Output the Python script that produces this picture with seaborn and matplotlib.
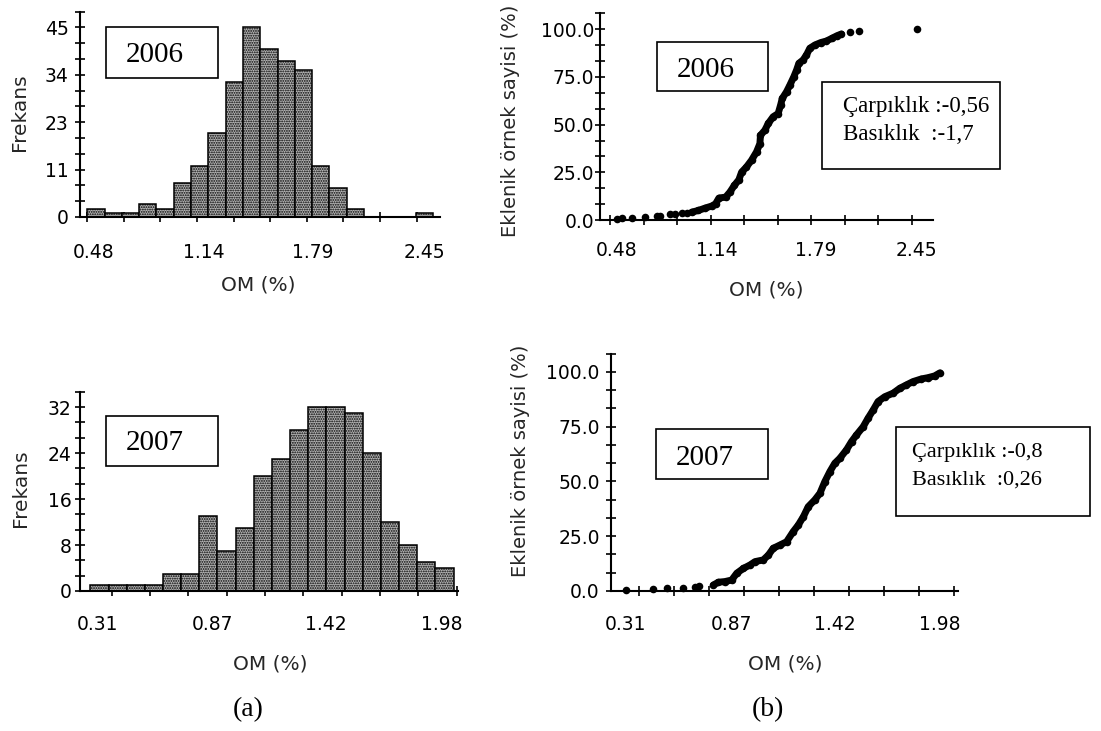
import numpy as np
import pandas as pd
import matplotlib
matplotlib.use("Agg")
import matplotlib.pyplot as plt
from matplotlib.patches import Rectangle
import seaborn as sns

# ---------------------------------------------------------------------------
# Organic matter (OM, %) frequency tables: 20 equal-width classes per year
# ---------------------------------------------------------------------------
om2006_range = (0.444, 2.505)
om2006_counts = [2, 1, 1, 3, 2, 8, 12, 20, 32, 45, 40, 37, 35, 12, 7, 2, 0, 0, 0, 1]

om2007_range = (0.278, 2.036)
om2007_counts = [1, 1, 1, 1, 3, 3, 13, 7, 11, 20, 23, 28, 32, 32, 31, 24, 12, 8, 5, 4]

# ---------------------------------------------------------------------------
# Cumulative sample percentage versus OM (%)
# ---------------------------------------------------------------------------
cum2006_om = [0.48, 0.513, 0.583, 0.666, 0.742, 0.764, 0.830, 0.863, 0.911, 0.939,
              0.972, 1.016, 1.059, 1.103, 1.129, 1.151, 1.195, 1.223, 1.252, 1.282,
              1.300, 1.332, 1.365, 1.398, 1.420, 1.424, 1.453, 1.475, 1.507, 1.540,
              1.556, 1.567, 1.595, 1.617, 1.643, 1.661, 1.676, 1.704, 1.726, 1.748,
              1.781, 1.820, 1.857, 1.895, 1.927, 1.956, 2.013, 2.068, 2.45]
cum2006_pct = [0.4, 0.8, 1.2, 1.5, 2.0, 2.3, 2.9, 3.1, 3.5, 3.9,
               4.1, 5.0, 6.2, 7.3, 8.5, 11.5, 12.0, 14.6, 18.1, 21.1,
               25.1, 27.8, 31.3, 35.7, 40.0, 44.4, 47.1, 50.6, 54.1, 55.8,
               60.2, 63.7, 67.2, 70.7, 75.1, 78.6, 82.1, 83.9, 86.5, 90.0,
               91.7, 93.0, 93.8, 95.3, 96.6, 97.5, 98.6, 98.8, 100.0]
cum2006_dense = (10, 46)   # slice of the continuous part of the curve

cum2007_om = [0.31, 0.453, 0.528, 0.616, 0.678, 0.701, 0.775, 0.802, 0.837, 0.873,
              0.900, 0.935, 0.971, 0.997, 1.041, 1.068, 1.094, 1.130, 1.165, 1.200,
              1.227, 1.254, 1.280, 1.315, 1.342, 1.368, 1.395, 1.421, 1.448, 1.483,
              1.510, 1.536, 1.572, 1.598, 1.625, 1.651, 1.687, 1.731, 1.766, 1.802,
              1.837, 1.881, 1.917, 1.952, 1.98]
cum2007_pct = [0.4, 0.8, 1.2, 1.5, 2.0, 2.3, 2.7, 4.0, 4.3, 5.0,
               8.1, 10.3, 11.9, 13.4, 14.2, 16.4, 19.5, 21.0, 22.5, 27.1,
               30.1, 33.9, 38.5, 41.6, 44.6, 49.9, 54.5, 58.3, 60.6, 64.4,
               68.2, 71.2, 75.0, 78.9, 82.6, 86.5, 88.7, 90.3, 92.5, 94.1,
               95.6, 96.8, 97.4, 98.2, 99.6]
cum2007_dense = (6, 45)

# Axis tick labels
x2006_labels = ["0.48", "1.14", "1.79", "2.45"]
x2007_labels = ["0.31", "0.87", "1.42", "1.98"]
freq2006_labels = ["0", "11", "23", "34", "45"]
freq2007_labels = ["0", "8", "16", "24", "32"]
pct_labels = ["0.0", "25.0", "50.0", "75.0", "100.0"]

# Shape statistics
stats2006 = ["Çarpıklık :-0,56", "Basıklık  :-1,7"]
stats2007 = ["Çarpıklık :-0,8", "Basıklık  :0,26"]

# ---------------------------------------------------------------------------
sns.set_theme(style="ticks")
plt.rcParams["font.family"] = ["DejaVu Sans"]
plt.rcParams["hatch.linewidth"] = 0.9
plt.rcParams["hatch.color"] = "black"

W, H = 1101, 731
fig = plt.figure(figsize=(W / 100, H / 100), dpi=100)
fig.patch.set_facecolor("white")


def axes_px(left, top, right, bottom):
    return fig.add_axes([left / W, 1 - bottom / H, (right - left) / W, (bottom - top) / H])


def style(ax, xlim, ylim, xmaj, xlab, xmin, ymaj, ylab, ymin, xpad, ypad):
    ax.set_xlim(*xlim)
    ax.set_ylim(*ylim)
    ax.set_xticks(xmaj)
    ax.set_xticklabels(xlab)
    ax.set_xticks(xmin, minor=True)
    ax.set_yticks(ymaj)
    ax.set_yticklabels(ylab)
    ax.set_yticks(ymin, minor=True)
    ax.tick_params(axis="x", which="major", length=0, pad=xpad, labelsize=13.5, colors="black")
    ax.tick_params(axis="x", which="minor", length=7.5, width=1.2, direction="inout", color="black")
    ax.tick_params(axis="y", which="both", length=7.5, width=1.2, direction="inout",
                   pad=ypad, labelsize=13.5, colors="black")
    for s in ("top", "right"):
        ax.spines[s].set_visible(False)
    for s in ("left", "bottom"):
        ax.spines[s].set_linewidth(1.5)
        ax.spines[s].set_color("black")
    ax.set_facecolor("none")


def draw_hist(ax, rng, counts):
    edges = np.linspace(rng[0], rng[1], len(counts) + 1)
    centers = (edges[:-1] + edges[1:]) / 2
    df = pd.DataFrame({"om": centers, "n": counts})
    sns.histplot(data=df, x="om", weights="n", bins=list(edges), ax=ax, color="#b4b4b4",
                 edgecolor="black", linewidth=1.1, alpha=1, hatch=".......")


def draw_cum(ax, om, pct, dense):
    df = pd.DataFrame({"om": om, "pct": pct})
    seg = df.iloc[dense[0]:dense[1]]
    sns.lineplot(data=seg, x="om", y="pct", ax=ax, color="black", linewidth=5.0,
                 sort=False, estimator=None)
    sns.scatterplot(data=df, x="om", y="pct", ax=ax, color="black", s=30,
                    linewidth=0, clip_on=False)


# ---- (a) 2006 histogram ----
ax1 = axes_px(80, 11.7, 440, 217)
draw_hist(ax1, om2006_range, om2006_counts)
style(ax1, (0.401, 2.545), (0, 48.75), [0.48, 1.14, 1.79, 2.45], x2006_labels,
      0.444 + 0.218 * np.arange(10), [0, 11.25, 22.5, 33.75, 45], freq2006_labels,
      np.arange(0, 48.8, 3.75), 18.5, 4.5)
ax1.set_xlabel("OM (%)", fontsize=14.5, va="center")
ax1.xaxis.set_label_coords(0.494, -0.331)
ax1.set_ylabel("Frekans", fontsize=14.5, va="center")
ax1.yaxis.set_label_coords(-0.167, 0.509)

# ---- (b) 2006 cumulative ----
ax2 = axes_px(600, 13.3, 933, 220)
draw_cum(ax2, cum2006_om, cum2006_pct, cum2006_dense)
style(ax2, (0.370, 2.557), (0, 108.33), [0.48, 1.14, 1.79, 2.45], x2006_labels,
      0.436 + 0.22 * np.arange(10), [0, 25, 50, 75, 100], pct_labels,
      np.arange(0, 108.4, 25 / 3), 15.3, 0.5)
ax2.set_xlabel("OM (%)", fontsize=14.5, va="center")
ax2.xaxis.set_label_coords(0.50, -0.339)
ax2.set_ylabel("Eklenik örnek sayisi (%)", fontsize=14, va="center")
ax2.yaxis.set_label_coords(-0.268, 0.478)

# ---- (a) 2007 histogram ----
ax3 = axes_px(80, 391.7, 458.3, 591)
draw_hist(ax3, om2007_range, om2007_counts)
style(ax3, (0.2277, 2.059), (0, 34.67), [0.31, 0.87, 1.42, 1.98], x2007_labels,
      0.381 + 0.1855 * np.arange(10), [0, 8, 16, 24, 32], freq2007_labels,
      np.arange(0, 34.7, 8 / 3), 17, 2.4)
ax3.set_xlabel("OM (%)", fontsize=14.5, va="center")
ax3.xaxis.set_label_coords(0.502, -0.366)
ax3.set_ylabel("Frekans", fontsize=14.5, va="center")
ax3.yaxis.set_label_coords(-0.156, 0.515)

# ---- (b) 2007 cumulative ----
ax4 = axes_px(610.5, 353.7, 958, 591)
draw_cum(ax4, cum2007_om, cum2007_pct, cum2007_dense)
style(ax4, (0.229, 2.076), (0, 108.33), [0.31, 0.87, 1.42, 1.98], x2007_labels,
      0.382 + 0.186 * np.arange(10), [0, 25, 50, 75, 100], pct_labels,
      np.arange(0, 108.4, 25 / 3), 17, 4)
ax4.set_xlabel("OM (%)", fontsize=14.5, va="center")
ax4.xaxis.set_label_coords(0.502, -0.307)
ax4.set_ylabel("Eklenik örnek sayisi (%)", fontsize=14, va="center")
ax4.yaxis.set_label_coords(-0.258, 0.55)


# ---- framed annotations ----
def frame(x0, y0, x1, y1):
    fig.patches.append(Rectangle((x0 / W, 1 - y1 / H), (x1 - x0) / W, (y1 - y0) / H,
                                 transform=fig.transFigure, fill=True, facecolor="white",
                                 edgecolor="black", linewidth=1.2, zorder=5))


def ftext(x, y, s, size, ha="center"):
    fig.text(x / W, 1 - y / H, s, fontsize=size, family="Liberation Serif",
             ha=ha, va="center", color="black", zorder=6)


frame(106, 26.7, 218, 78.3)
ftext(155, 55, "2006", 21)
frame(656.7, 41.7, 768.3, 90.7)
ftext(706, 70, "2006", 21)
frame(821.7, 81.7, 1000, 169.3)
ftext(843, 106.7, stats2006[0], 16.5, ha="left")
ftext(843, 135, stats2006[1], 16.5, ha="left")

frame(106, 415.7, 218, 466)
ftext(155, 443.3, "2007", 21)
frame(656, 429.3, 768.3, 479.3)
ftext(705, 457.7, "2007", 21)
frame(896, 427.3, 1090, 516)
ftext(912, 453, stats2007[0], 16, ha="left")
ftext(912, 480, stats2007[1], 16, ha="left")

ftext(248, 710, "(a)", 20)
ftext(768, 710, "(b)", 20)

fig.savefig("out.png", dpi=100, facecolor="white")
